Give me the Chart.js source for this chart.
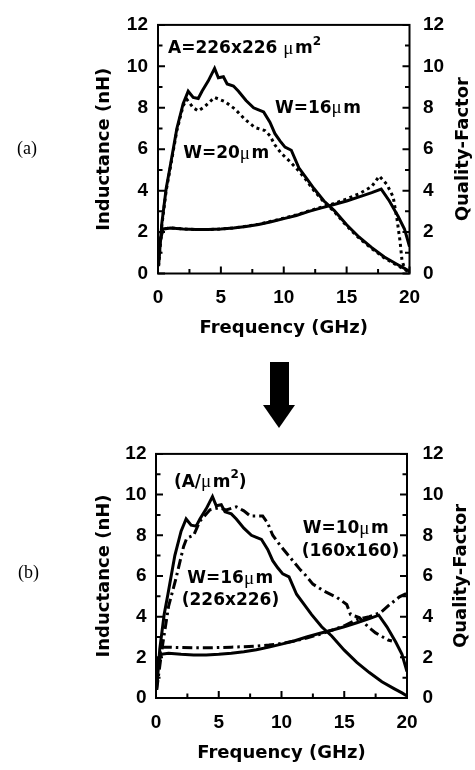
<!DOCTYPE html>
<html>
<head>
<meta charset="utf-8">
<script src="https://cdn.jsdelivr.net/npm/chart.js@4/dist/chart.umd.min.js"></script>
<style>
html, body { margin: 0; padding: 0; background: #fff; }
#page { position: relative; width: 475px; height: 770px; overflow: hidden; }
#page canvas { position: absolute; left: 0; }
#chart-a { top: 0; }
#chart-b { top: 427px; }
.panel-tag { position: absolute; font: 18px "Liberation Serif", serif; line-height: 20px; color: #000; }
.arrow-shaft { position: absolute; left: 270px; top: 362px; width: 19px; height: 44px; background: #000; }
.arrow-head { position: absolute; left: 263px; top: 405px; width: 0; height: 0;
    border-left: 16px solid transparent; border-right: 16px solid transparent; border-top: 23px solid #000; }
</style>
</head>
<body>
<div id="page">
    <canvas id="chart-a" width="475" height="345"></canvas>
    <canvas id="chart-b" width="475" height="343"></canvas>
    <div class="panel-tag" style="left:17px; top:138px;">(a)</div>
    <div class="panel-tag" style="left:18px; top:562px;">(b)</div>
    <div class="arrow-shaft"></div>
    <div class="arrow-head"></div>
</div>
<script>
// W=16um coil (226x226) - same curves appear in both panels
const freqL16 = [0.05, 0.3, 0.65, 0.95, 1.5, 2.0, 2.4, 2.8, 3.2, 3.5, 4.0, 4.5, 4.8, 5.2, 5.5, 6.0, 6.4, 7.0, 7.6, 8.0, 8.4, 8.9, 9.3, 9.7, 10.1, 10.6, 11.2, 11.8, 12.4, 13.2, 14.0, 15.0, 16.0, 17.0, 18.0, 19.0, 19.6, 20.0];
const indL16 = [0.4, 2.4, 4.1, 5.1, 7.0, 8.2, 8.8, 8.5, 8.45, 8.8, 9.3, 9.9, 9.45, 9.5, 9.15, 9.05, 8.8, 8.35, 8.0, 7.9, 7.8, 7.3, 6.75, 6.4, 6.1, 5.95, 5.1, 4.6, 4.1, 3.5, 3.05, 2.35, 1.75, 1.25, 0.8, 0.45, 0.25, 0.1];
const freqQ16 = [0, 0.15, 0.4, 1, 2, 3, 4, 5, 6, 7, 8, 9, 10, 11, 12, 13, 14, 15, 16, 17, 17.75, 18.4, 19.1, 19.6, 20];
const qualQ16 = [0.4, 1.5, 2.15, 2.2, 2.15, 2.12, 2.12, 2.15, 2.2, 2.27, 2.37, 2.5, 2.65, 2.8, 3.0, 3.17, 3.33, 3.5, 3.7, 3.9, 4.07, 3.5, 2.75, 2.15, 1.3];

// W=20um coil (226x226), panel (a) dotted
const freqL20 = [0.05, 0.3, 0.65, 0.95, 1.5, 2.0, 2.3, 2.8, 3.2, 3.7, 4.5, 5.3, 6.1, 6.9, 7.7, 8.5, 8.9, 9.3, 9.8, 10.5, 11.2, 11.8, 12.4, 13.2, 14.0, 15.0, 16.0, 17.0, 18.0, 19.0, 19.6, 20.0];
const indL20 = [0.35, 2.3, 4.0, 5.0, 6.9, 8.1, 8.4, 8.0, 7.85, 8.05, 8.5, 8.3, 7.95, 7.45, 7.05, 6.9, 6.65, 6.2, 5.8, 5.4, 4.95, 4.5, 4.0, 3.45, 3.0, 2.3, 1.7, 1.2, 0.75, 0.4, 0.2, 0.05];
const freqQ20 = [0, 0.15, 0.4, 1, 2, 3, 4, 5, 6, 7, 8, 9, 10, 11, 12, 13, 14, 15, 16, 17, 17.6, 18.2, 18.7, 19.0, 19.25, 19.4, 19.6];
const qualQ20 = [0.4, 1.5, 2.15, 2.2, 2.15, 2.12, 2.12, 2.15, 2.2, 2.28, 2.38, 2.52, 2.67, 2.83, 3.02, 3.2, 3.38, 3.6, 3.85, 4.2, 4.7, 4.3, 3.7, 2.65, 1.55, 0.65, 0.25];

// W=10um coil (160x160), panel (b) dash-dot
const freqL10 = [0.05, 0.5, 1.0, 1.6, 2.2, 2.45, 3.0, 3.5, 4.3, 5.0, 5.6, 6.4, 7.0, 7.5, 8.5, 8.9, 9.3, 9.9, 10.7, 11.5, 11.9, 12.5, 13.4, 14.4, 15.2, 15.5, 16.2, 16.9, 17.5, 18.5, 18.8];
const indL10 = [0.4, 2.5, 4.5, 5.9, 7.45, 7.85, 8.0, 8.7, 9.25, 9.35, 9.25, 9.4, 9.2, 8.95, 8.95, 8.6, 8.0, 7.5, 6.9, 6.3, 6.05, 5.6, 5.25, 4.95, 4.6, 4.1, 3.95, 3.5, 3.2, 2.85, 2.8];
const freqQ10 = [0, 0.2, 0.5, 1, 2, 3, 4, 5, 6, 7, 8, 9, 10, 11, 12, 13, 14, 15, 16, 17, 17.9, 18.6, 19.4, 20];
const qualQ10 = [0.5, 2.0, 2.5, 2.5, 2.48, 2.47, 2.47, 2.48, 2.5, 2.52, 2.55, 2.6, 2.68, 2.8, 2.95, 3.12, 3.33, 3.55, 3.85, 4.0, 4.2, 4.58, 4.97, 5.15];

const freqTicks = [0, 5, 10, 15, 20];
const levelTicks = [0, 2, 4, 6, 8, 10, 12];

const pts = (xs, ys) => xs.map((x, i) => ({ x, y: ys[i] }));

const DOTTED = [3, 3.5];
const DASH_DOT = [10, 4, 2.5, 4];

function lineSet(xs, ys, axis, dash) {
    return {
        data: pts(xs, ys),
        yAxisID: axis,
        borderColor: '#000',
        borderWidth: 3,
        borderDash: dash || [],
        pointRadius: 0,
        tension: 0,
        fill: false,
    };
}

const tickFont = { family: '"Liberation Sans", Arial, sans-serif', size: 19, weight: 'bold' };
const titleFont = { family: '"DejaVu Sans", sans-serif', size: 18, weight: 'bold' };
const NOTE_BOLD = 'bold 17px "DejaVu Sans"';
const NOTE_MU = '19px "Liberation Serif"';
const NOTE_SUP = 'bold 12px "DejaVu Sans"';

// box, inward tick marks, right-hand title (reads bottom-to-top like the print)
const frameTicks = {
    id: 'frameTicks',
    afterDraw(chart, args, opts) {
        const { ctx, chartArea: a, scales } = chart;
        ctx.save();
        ctx.strokeStyle = '#000';
        ctx.lineWidth = 2;
        ctx.strokeRect(a.left, a.top, a.right - a.left, a.bottom - a.top);
        ctx.beginPath();
        for (let v = 0; v <= 12; v++) {
            const len = v % 2 === 0 ? 7 : 4.5;
            const yl = scales.y.getPixelForValue(v);
            ctx.moveTo(a.left, yl); ctx.lineTo(a.left + len, yl);
            const yr = scales.y1.getPixelForValue(v);
            ctx.moveTo(a.right, yr); ctx.lineTo(a.right - len, yr);
        }
        for (let f = 0; f <= 20; f += 2.5) {
            const len = f % 5 === 0 ? 7 : 4.5;
            const x = scales.x.getPixelForValue(f);
            ctx.moveTo(x, a.bottom); ctx.lineTo(x, a.bottom - len);
        }
        ctx.stroke();

        ctx.translate(scales.y1.right - opts.rightTitleOffset, (a.top + a.bottom) / 2);
        ctx.rotate(-Math.PI / 2);
        ctx.font = 'bold 18px "DejaVu Sans"';
        ctx.fillStyle = '#000';
        ctx.textAlign = 'center';
        ctx.textBaseline = 'middle';
        ctx.fillText('Quality-Factor', 0, 0);
        ctx.restore();
    },
};

// in-plot labels, anchored in data coordinates (left edge, cap middle)
const notes = {
    id: 'notes',
    afterDatasetsDraw(chart, args, opts) {
        const { ctx, scales } = chart;
        ctx.save();
        ctx.fillStyle = '#000';
        ctx.textBaseline = 'middle';
        ctx.textAlign = 'left';
        for (const item of opts.items) {
            let x = scales.x.getPixelForValue(item.f);
            const y = scales.y.getPixelForValue(item.v);
            for (const p of item.parts) {
                const sup = p.kind === 'sup';
                ctx.font = sup ? NOTE_SUP : p.kind === 'mu' ? NOTE_MU : NOTE_BOLD;
                ctx.fillText(p.t, x, sup ? y - 7 : y);
                x += ctx.measureText(p.t).width + (p.kind === 'mu' ? 1.5 : 0);
            }
        }
        ctx.restore();
    },
};

const wLabel = w => [{ t: 'W=' + w }, { t: 'μ', kind: 'mu' }, { t: 'm' }];

function buildScales(box) {
    return {
        x: {
            type: 'linear', min: 0, max: 20,
            grid: { display: false, drawTicks: false }, border: { display: false },
            afterBuildTicks: s => { s.ticks = freqTicks.map(value => ({ value })); },
            ticks: { padding: 13, font: tickFont, color: '#000' },
            title: { display: true, text: 'Frequency (GHz)', font: titleFont, color: '#000', padding: { top: 0, bottom: 6 } },
            afterFit: s => { s.height = box.bottom; },
        },
        y: {
            position: 'left', min: 0, max: 12,
            grid: { display: false, drawTicks: false }, border: { display: false },
            afterBuildTicks: s => { s.ticks = levelTicks.map(value => ({ value })); },
            ticks: { padding: box.leftPad, font: tickFont, color: '#000' },
            title: { display: true, text: 'Inductance (nH)', font: titleFont, color: '#000', padding: { top: 93.5, bottom: 0 } },
            afterFit: s => { s.width = box.left; },
        },
        y1: {
            position: 'right', min: 0, max: 12,
            grid: { display: false, drawTicks: false }, border: { display: false },
            afterBuildTicks: s => { s.ticks = levelTicks.map(value => ({ value })); },
            ticks: { padding: box.rightPad, font: tickFont, color: '#000' },
            afterFit: s => { s.width = box.right; },
        },
    };
}

function makeChart(id, datasets, box, noteItems) {
    return new Chart(document.getElementById(id), {
        type: 'line',
        data: { datasets },
        options: {
            responsive: false,
            animation: false,
            events: [],
            layout: { padding: { top: 15, left: 0, right: 0, bottom: 0 } },
            scales: buildScales(box),
            plugins: {
                legend: { display: false },
                tooltip: { enabled: false },
                frameTicks: { rightTitleOffset: box.rightTitle },
                notes: { items: noteItems },
            },
        },
        plugins: [frameTicks, notes],
    });
}

makeChart('chart-a', [
    lineSet(freqL16, indL16, 'y'),
    lineSet(freqQ16, qualQ16, 'y1'),
    lineSet(freqL20, indL20, 'y', DOTTED),
    lineSet(freqQ20, qualQ20, 'y1', DOTTED),
], { left: 158, right: 65.5, bottom: 71.5, leftPad: 10, rightPad: 13.5, rightTitle: 12 }, [
    { f: 0.8, v: 10.85, parts: [{ t: 'A=226x226 ' }, { t: 'μ', kind: 'mu' }, { t: 'm' }, { t: '2', kind: 'sup' }] },
    { f: 9.3, v: 7.98, parts: wLabel(16) },
    { f: 2.0, v: 5.77, parts: wLabel(20) },
]);

makeChart('chart-b', [
    lineSet(freqL16, indL16, 'y'),
    lineSet(freqQ16, qualQ16, 'y1'),
    lineSet(freqL10, indL10, 'y', DASH_DOT),
    lineSet(freqQ10, qualQ10, 'y1', DASH_DOT),
], { left: 156, right: 68, bottom: 72, leftPad: 9.5, rightPad: 15.5, rightTitle: 13.5 }, [
    { f: 1.43, v: 10.61, parts: [{ t: '(A/' }, { t: 'μ', kind: 'mu' }, { t: 'm' }, { t: '2', kind: 'sup' }, { t: ')' }] },
    { f: 2.49, v: 5.87, parts: wLabel(16) },
    { f: 2.05, v: 4.78, parts: [{ t: '(226x226)' }] },
    { f: 11.69, v: 8.31, parts: wLabel(10) },
    { f: 11.61, v: 7.22, parts: [{ t: '(160x160)' }] },
]);
</script>
</body>
</html>
